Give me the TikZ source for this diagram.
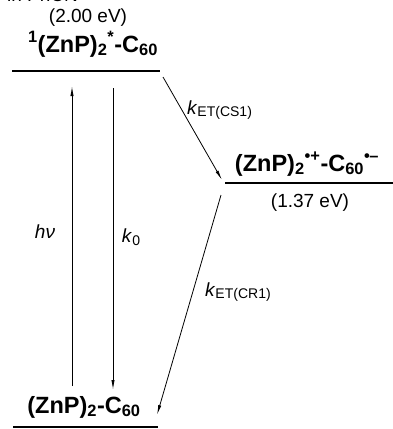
\documentclass[tikz,border=0pt]{standalone}
\usepackage{fontspec}
\setmainfont{Liberation Sans}
\usetikzlibrary{arrows.meta}
\newcommand\ratesub[1]{\raisebox{-0.15em}{\fontsize{14}{16}\selectfont #1}}

\begin{document}
\begin{tikzpicture}[x=1pt, y=-1pt,
    level/.style={line width=2.8pt},
    arr/.style={-{Latex[length=10pt,width=3.2pt]}, line width=0.8pt},
    state/.style={font=\fontsize{23.5}{27}\selectfont\bfseries, inner sep=0pt},
    energy/.style={font=\fontsize{19}{22}\selectfont, inner sep=0pt},
    rate/.style={font=\fontsize{19}{22}\selectfont, inner sep=0pt}
  ]
  \useasboundingbox (0,0) rectangle (393,429);

  % Niveaus
  \coordinate (s1l) at (12,71);   \coordinate (s1r) at (160,71);
  \coordinate (csl) at (225,183); \coordinate (csr) at (396,183);
  \coordinate (gsl) at (13,427);  \coordinate (gsr) at (158,427);
  \draw[level] (s1l) -- (s1r);
  \draw[level] (csl) -- (csr);
  \draw[level] (gsl) -- (gsr);

  % Zustaende
  \node[energy, anchor=base west] (solv) at (7,1.5) {in PhCN};
  \node[energy] (e1) at (88,18) {(2.00 eV)};
  \node[state, anchor=base] (s1) at (93,52)
    {\textsuperscript{1}(ZnP)\textsubscript{2}\textsuperscript{*}-C\textsubscript{60}};
  \node[state, anchor=base] (cs) at (307,171)
    {(ZnP)\textsubscript{2}\textsuperscript{\textbullet+}-C\textsubscript{60}\textsuperscript{\textbullet\kern-.5pt\textendash}};
  \node[energy] (e2) at (310,203) {(1.37 eV)};
  \node[state, anchor=base] (gs) at (84,413)
    {(ZnP)\textsubscript{2}-C\textsubscript{60}};

  % Pfeile
  \coordinate (hvA) at (72,386);  \coordinate (hvB) at (72,86);
  \coordinate (k0A) at (113,88);  \coordinate (k0B) at (113,390);
  \coordinate (csA) at (163,77);  \coordinate (csB) at (222,180);
  \coordinate (crA) at (221,195); \coordinate (crB) at (157,415);
  \draw[arr] (hvA) -- (hvB);
  \draw[arr] (k0A) -- (k0B);
  \draw[arr] (csA) -- (csB);
  \draw[arr] (crA) -- (crB);

  % Beschriftungen
  \node[rate] (hv) at (45,232) {\textit{hν}};
  \node[rate] (k0) at (131,237) {\textit{k}\ratesub{0}};
  \node[rate, anchor=west] (kcs) at (187,110) {\textit{k}\ratesub{ET(CS1)}};
  \node[rate, anchor=west] (kcr) at (205,292) {\textit{k}\ratesub{ET(CR1)}};
\end{tikzpicture}
\end{document}
